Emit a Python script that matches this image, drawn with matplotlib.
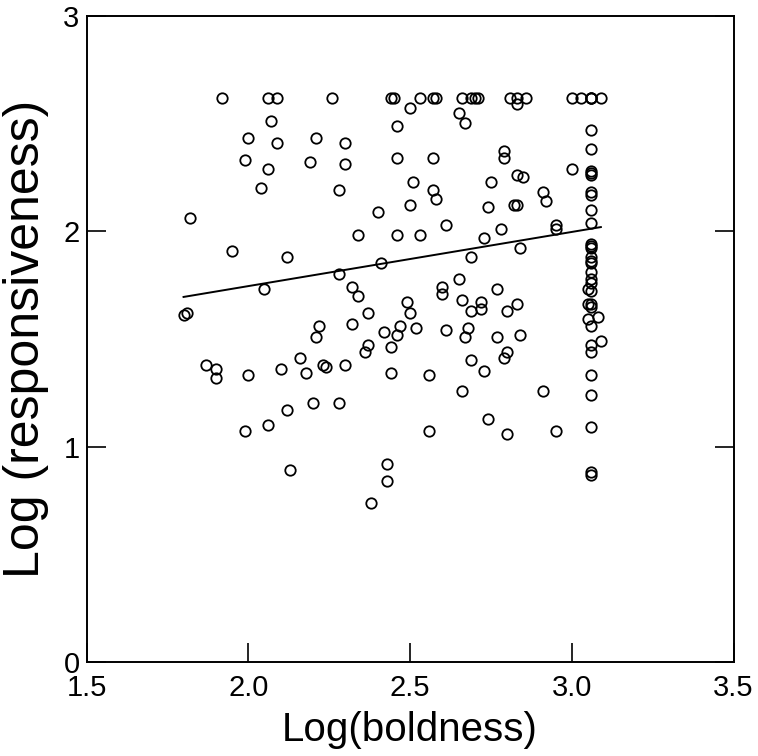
import matplotlib
matplotlib.use("Agg")
import matplotlib.pyplot as plt
import numpy as np

# ---- data ----
top_row_x = [1.92, 2.06, 2.09, 2.26, 2.44, 2.45, 2.53, 2.57, 2.58, 2.66, 2.69, 2.70,
             2.71, 2.81, 2.83, 2.86, 3.00, 3.03, 3.06, 3.06, 3.06, 3.09]
top_row_y = [2.62] * len(top_row_x)

scatter_x = [2.50, 2.83, 2.65, 2.67, 2.07, 2.46, 2.00, 2.09, 2.21, 2.30, 1.99, 2.06,
             2.19, 2.30, 2.46, 2.04, 2.28, 2.40, 1.82, 1.95, 2.12, 2.34, 2.46, 2.41,
             2.28, 2.79, 2.79, 2.57, 3.00, 2.51, 2.75, 2.83, 2.85, 2.57, 2.58, 2.91,
             2.92, 2.50, 2.74, 2.82, 2.83, 2.61, 2.53, 2.78, 2.73, 2.95, 2.95, 2.84,
             2.69, 2.05, 2.32, 2.34, 2.37, 2.49, 2.50, 1.80, 1.81, 2.22, 2.21, 2.32,
             2.42, 2.46, 2.47, 2.37, 2.36, 2.44, 2.16, 1.87, 1.90, 1.90, 2.00, 2.10,
             2.18, 2.23, 2.24, 2.30, 2.44, 2.12, 2.20, 2.28, 2.06, 1.99, 2.43, 2.43,
             2.38, 2.13, 2.65, 2.60, 2.60, 2.77, 2.66, 2.69, 2.72, 2.72, 2.80, 2.83,
             2.52, 2.61, 2.68, 2.67, 2.77, 2.84, 2.80, 2.79, 2.69, 2.73, 2.56, 2.66,
             2.91, 2.74, 2.56, 2.80, 2.95]
scatter_y = [2.57, 2.59, 2.55, 2.50, 2.51, 2.49, 2.43, 2.41, 2.43, 2.41, 2.33, 2.29,
             2.32, 2.31, 2.34, 2.20, 2.19, 2.09, 2.06, 1.91, 1.88, 1.98, 1.98, 1.85,
             1.80, 2.37, 2.34, 2.34, 2.29, 2.23, 2.23, 2.26, 2.25, 2.19, 2.15, 2.18,
             2.14, 2.12, 2.11, 2.12, 2.12, 2.03, 1.98, 2.01, 1.97, 2.03, 2.01, 1.92,
             1.88, 1.73, 1.74, 1.70, 1.62, 1.67, 1.62, 1.61, 1.62, 1.56, 1.51, 1.57,
             1.53, 1.52, 1.56, 1.47, 1.44, 1.46, 1.41, 1.38, 1.36, 1.32, 1.33, 1.36,
             1.34, 1.38, 1.37, 1.38, 1.34, 1.17, 1.20, 1.20, 1.10, 1.07, 0.92, 0.84,
             0.74, 0.89, 1.78, 1.74, 1.71, 1.73, 1.68, 1.63, 1.67, 1.64, 1.63, 1.66,
             1.55, 1.54, 1.55, 1.51, 1.51, 1.52, 1.44, 1.41, 1.40, 1.35, 1.33, 1.26,
             1.26, 1.13, 1.07, 1.06, 1.07]

column_x = [3.06, 3.06, 3.06, 3.06, 3.06, 3.06, 3.06, 3.06, 3.06, 3.06, 3.06, 3.06,
            3.06, 3.06, 3.06, 3.06, 3.06, 3.06, 3.05, 3.06, 3.05, 3.06, 3.06, 3.08,
            3.05, 3.06, 3.09, 3.06, 3.06, 3.06, 3.06, 3.06, 3.06, 3.06]
column_y = [2.47, 2.38, 2.28, 2.27, 2.26, 2.18, 2.17, 2.10, 2.04, 1.94, 1.93, 1.92,
            1.88, 1.86, 1.85, 1.81, 1.78, 1.76, 1.73, 1.72, 1.66, 1.66, 1.65, 1.60,
            1.59, 1.56, 1.49, 1.47, 1.44, 1.33, 1.24, 1.09, 0.88, 0.87]

boldness = np.array(top_row_x + scatter_x + column_x)
responsiveness = np.array(top_row_y + scatter_y + column_y)

fit_intercept = 1.242
fit_slope = 0.2514

x_ticks = [1.5, 2.0, 2.5, 3.0, 3.5]
x_tick_labels = ["1.5", "2.0", "2.5", "3.0", "3.5"]
y_ticks = [0, 1, 2, 3]
y_tick_labels = ["0", "1", "2", "3"]
x_label = "Log(boldness)"
y_label = "Log (responsiveness)"

# ---- figure ----
plt.rcParams['font.family'] = ['Liberation Sans Narrow', 'Liberation Sans', 'DejaVu Sans']

fig = plt.figure(figsize=(7.58, 7.56), dpi=100)
ax = fig.add_axes([86.5 / 758, (756 - 662) / 756, (733.5 - 86.5) / 758, (662 - 15.7) / 756])

ax.plot(boldness, responsiveness, linestyle='none', marker='o', markersize=7.5,
        markerfacecolor='none', markeredgecolor='black', markeredgewidth=1.3)

fx = np.array([boldness.min(), boldness.max()])
ax.plot(fx, fit_intercept + fit_slope * fx, color='black', linewidth=1.4)

ax.set_xlim(1.5, 3.5)
ax.set_ylim(0, 3)
ax.set_xticks(x_ticks)
ax.set_xticklabels(x_tick_labels)
ax.set_yticks(y_ticks)
ax.set_yticklabels(y_tick_labels)

for s in ax.spines.values():
    s.set_linewidth(1.4)

ax.tick_params(axis='x', direction='in', length=13.5, width=1.2, labelsize=21,
               top=False, bottom=True, pad=9)
ax.tick_params(axis='y', direction='in', length=13.5, width=1.2, labelsize=21,
               left=True, right=True, pad=5)

ax.set_xlabel(x_label, fontsize=29, labelpad=6)
ax.set_ylabel(y_label, fontsize=36, labelpad=10)

fig.savefig("out.png", dpi=100)
